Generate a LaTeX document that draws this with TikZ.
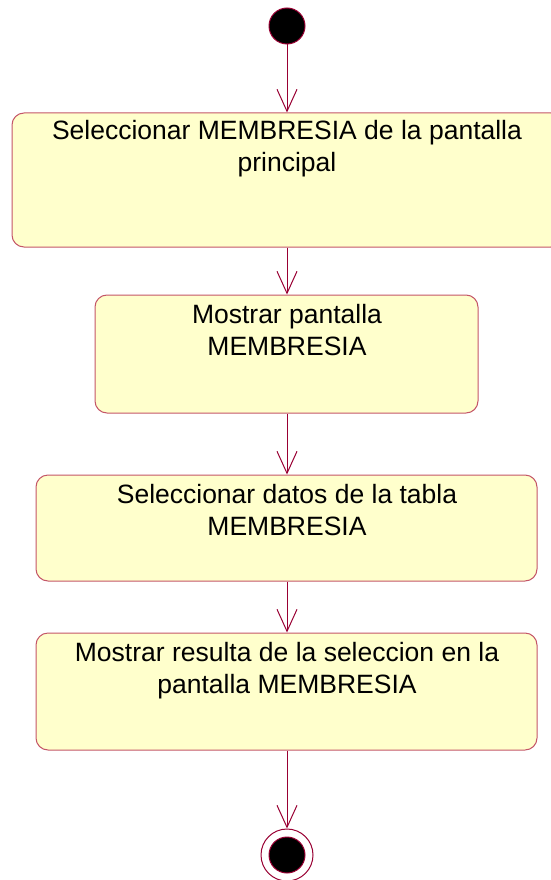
\documentclass[tikz,border=0pt]{standalone}
\usepackage{fontspec}
\setmainfont{Liberation Sans}
\usetikzlibrary{arrows.meta,positioning}
\definecolor{umlline}{RGB}{153,0,51}
\definecolor{umlborder}{RGB}{196,86,104}
\definecolor{umlfill}{RGB}{255,255,204}
\tikzset{
actbox/.style={draw=umlborder, fill=umlfill, rounded corners=12pt, line width=1pt, inner sep=0pt},
acttext/.style={align=center, inner sep=0pt, anchor=base, font=\fontsize{26.5}{32}\selectfont},
actarrow/.style={draw=umlline, line width=1pt, -{Straight Barb[length=22pt,width=20pt,line width=1pt]}},
startdot/.style={circle, draw=umlline, fill=black, line width=1pt, minimum size=36pt, inner sep=0pt},
endring/.style={circle, draw=umlline, fill=white, line width=1pt, minimum size=52pt, inner sep=0pt}
}
\begin{document}
\begin{tikzpicture}[x=1pt,y=-1pt]
\useasboundingbox (0,0) rectangle (551,880);
\clip (0,0) rectangle (551,880);

\node[startdot] (ini) at (287,26) {};

% base anchor sits on the last line
\node[actbox, minimum width=551pt, minimum height=134pt] (sel) at (287.5,180) {};
\node[acttext] (seltxt) at (287,171) {Seleccionar MEMBRESIA de la pantalla\\principal};

\node[actbox, minimum width=383pt, minimum height=118pt] (most) at (286.5,354) {};
\node[acttext] (mosttxt) at (287,355) {Mostrar pantalla\\MEMBRESIA};

\node[actbox, minimum width=501pt, minimum height=106pt] (datos) at (286.5,528) {};
\node[acttext] (datostxt) at (287,535) {Seleccionar datos de la tabla\\MEMBRESIA};

\node[actbox, minimum width=501pt, minimum height=117pt] (res) at (286.5,691.5) {};
\node[acttext] (restxt) at (287,693) {Mostrar resulta de la seleccion en la\\pantalla MEMBRESIA};

\node[endring] (fin) at (287,855) {};
\node[startdot] (findot) at (fin) {};

\draw[actarrow] (ini) -- (ini |- sel.north);
\draw[actarrow] (sel.south -| ini) -- (most.north -| ini);
\draw[actarrow] (most.south -| ini) -- (datos.north -| ini);
\draw[actarrow] (datos.south -| ini) -- (res.north -| ini);
\draw[actarrow] (res.south -| ini) -- (fin);
\end{tikzpicture}
\end{document}
